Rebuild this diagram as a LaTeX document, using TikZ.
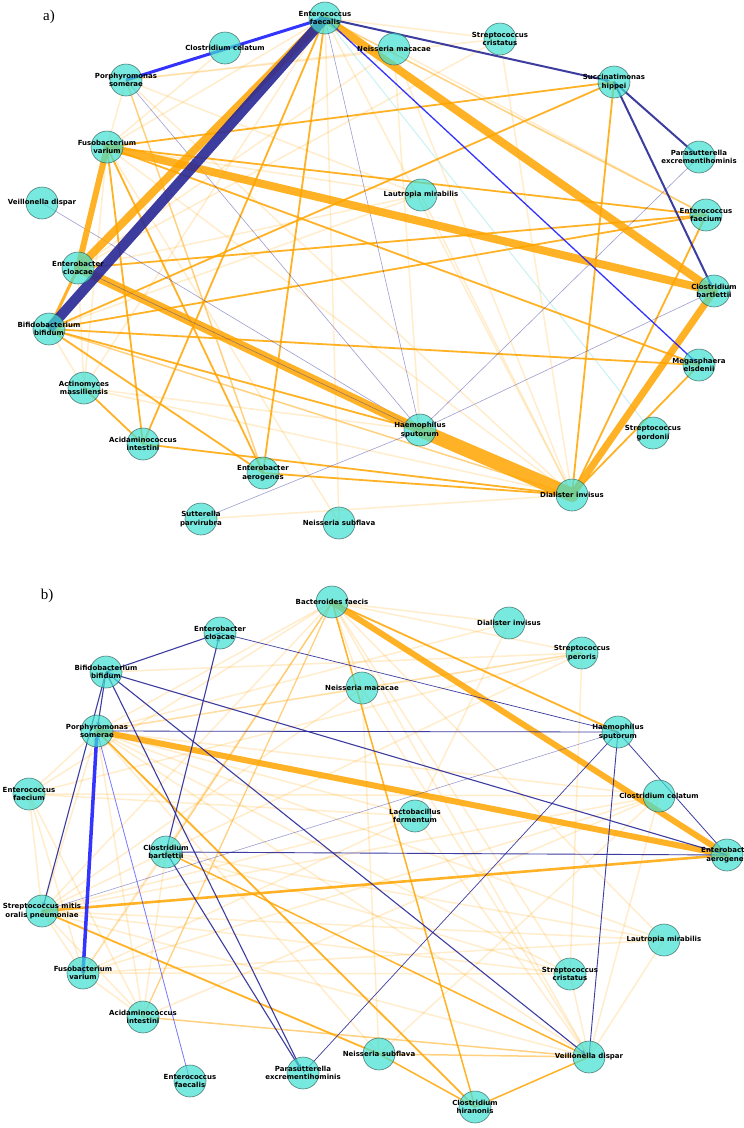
\documentclass[tikz,border=0pt]{standalone}
\usepackage{fontspec}
\newfontfamily\lblfont{DejaVu Sans}
\newfontfamily\panelfont{Liberation Serif}
\usetikzlibrary{arrows.meta}
\pgfdeclarelayer{bg}
\pgfsetlayers{bg,main}
\definecolor{eorange}{RGB}{255,165,0}
\definecolor{enavy}{RGB}{40,40,150}
\definecolor{eblue}{RGB}{30,30,255}
\definecolor{nodefill}{RGB}{64,224,208}
\definecolor{nodeline}{RGB}{47,79,79}
\definecolor{ecyan}{RGB}{150,230,230}
\tikzset{
  nd/.style={circle, minimum size=32pt, inner sep=0pt, fill=nodefill, fill opacity=0.7, draw=nodeline, draw opacity=0.7, line width=0.6pt},
  lbl/.style={font=\lblfont\bfseries\fontsize{7}{8.3}\selectfont, align=center, inner sep=0pt, text=black},
  eo/.style={draw=eorange, draw opacity=0.85, line width=#1, line cap=round}, eo/.default=1.8,
  ef/.style={draw=eorange, draw opacity=0.2, line width=#1}, ef/.default=1.5,
  em/.style={draw=eorange, draw opacity=0.5, line width=#1}, em/.default=1.5,
  en/.style={draw=enavy, draw opacity=0.9, line width=#1}, en/.default=1.1,
  eb/.style={draw=eblue, draw opacity=0.9, line width=#1}, eb/.default=1.2,
  el/.style={draw=enavy, draw opacity=0.45, line width=0.6pt},
  ec/.style={draw=ecyan, draw opacity=0.5, line width=1pt},
  arr/.style={-{Stealth[length=5pt,width=4pt]}, shorten >=4pt},
  plab/.style={font=\panelfont\fontsize{15}{18}\selectfont, inner sep=0pt}
}
\newcommand{\bug}[3]{\node[nd] (#1) at (#2) {}; \node[lbl] (#1t) at (#1.center) {#3};}
\newcommand{\E}[3]{\draw[#1] (#2.center) -- (#3.center);}
\begin{document}
\begin{tikzpicture}[x=1pt,y=-1pt]
\useasboundingbox (0,0) rectangle (744,1128);
% ---------------- panel a nodes
\node[plab] (pa) at (49,17) {a)};
\bug{aEFs}{325,18}{Enterococcus\\faecalis}
\bug{aCC}{225,48}{Clostridium celatum}
\bug{aPS}{126,80}{Porphyromonas\\somerae}
\bug{aFV}{107,147}{Fusobacterium\\varium}
\bug{aVD}{42,203}{Veillonella dispar}
\bug{aECl}{78,268}{Enterobacter\\cloacae}
\bug{aBB}{49,329}{Bifidobacterium\\bifidum}
\bug{aAM}{84,388}{Actinomyces\\massiliensis}
\bug{aAI}{143,444}{Acidaminococcus\\intestini}
\bug{aEA}{263,473}{Enterobacter\\aerogenes}
\bug{aSP}{201,519}{Sutterella\\parvirubra}
\bug{aNS}{339,523}{Neisseria subflava}
\bug{aNM}{394,49}{Neisseria macacae}
\bug{aSC}{500,39}{Streptococcus\\cristatus}
\bug{aSH}{614,82}{Succinatimonas\\hippei}
\bug{aPE}{699,157}{Parasutterella\\excrementihominis}
\bug{aEFm}{706,215}{Enterococcus\\faecium}
\bug{aLM}{421,195}{Lautropia mirabilis}
\bug{aCB}{714,291}{Clostridium\\bartlettii}
\bug{aME}{699,365}{Megasphaera\\elsdenii}
\bug{aHS}{420,430}{Haemophilus\\sputorum}
\bug{aSG}{653,433}{Streptococcus\\gordonii}
\bug{aDI}{572,495}{Dialister invisus}
% ---------------- panel b nodes
\node[plab] (pb) at (47,596) {b)};
\bug{bBF}{332,602}{Bacteroides faecis}
\bug{bECl}{220,633}{Enterobacter\\cloacae}
\bug{bBB}{106,672}{Bifidobacterium\\bifidum}
\bug{bPS}{97,731}{Porphyromonas\\somerae}
\bug{bEFm}{29,794}{Enterococcus\\faecium}
\bug{bNM}{362,688}{Neisseria macacae}
\bug{bCB}{166,852}{Clostridium\\bartlettii}
\bug{bSM}{42,911}{Streptococcus mitis\\oralis pneumoniae}
\bug{bFV}{83,973}{Fusobacterium\\varium}
\bug{bAI}{143,1017}{Acidaminococcus\\intestini}
\bug{bEFs}{190,1081}{Enterococcus\\faecalis}
\bug{bPE}{303,1073}{Parasutterella\\excrementihominis}
\bug{bNS}{379,1054}{Neisseria subflava}
\bug{bCH}{475,1107}{Clostridium\\hiranonis}
\bug{bVD}{589,1057}{Veillonella dispar}
\bug{bSC}{570,974}{Streptococcus\\cristatus}
\bug{bLM}{664,940}{Lautropia mirabilis}
\bug{bEA}{727,855}{Enterobacter\\aerogenes}
\bug{bDI}{509,623}{Dialister invisus}
\bug{bSPe}{582,653}{Streptococcus\\peroris}
\bug{bHS}{618,732}{Haemophilus\\sputorum}
\bug{bCC}{659,796}{Clostridium celatum}
\bug{bLF}{415,816}{Lactobacillus\\fermentum}
\begin{pgfonlayer}{bg}
\fill[white] (0,0) rectangle (744,1128);
% ======== panel a edges
% faint
\E{ef}{aEFs}{aSC} \E{ef}{aPS}{aSC} \E{ef}{aPS}{aNM} \E{ef}{aPS}{aLM}
\E{ef}{aPS}{aFV} \E{ef}{aFV}{aNS} \E{ef}{aEFs}{aAM} \E{ef}{aAM}{aDI}
\E{ef}{aBB}{aAM} \E{ef}{aFV}{aAM} \E{ef}{aEFs}{aNS} \E{ef}{aNM}{aDI}
\E{ef}{aLM}{aDI} \E{ef}{aECl}{aLM} \E{ef}{aECl}{aSC} \E{ef}{aFV}{aLM}
\E{ef}{aNM}{aEFm} \E{ef}{aSC}{aDI} \E{ef}{aEFs}{aFV} \E{ef}{aSP}{aDI}
\E{ef}{aPS}{aDI} \E{ef}{aFV}{aDI} \E{ef}{aECl}{aNM} \E{ef}{aBB}{aLM}
\E{ef}{aAM}{aHS} \E{ef}{aEFs}{aDI} \E{ef}{aNM}{aHS} \E{ef}{aECl}{aAM}
\E{ef}{aPS}{aCC} \E{ef}{aCC}{aFV}
\E{ec}{aEFs}{aSG}
% semi
\E{em}{aEFs}{aEFm} \E{em}{aBB}{aDI} \E{em}{aPS}{aEA}
% medium orange
\E{eo}{aFV}{aSH} \E{eo}{aBB}{aSH} \E{eo}{aSH}{aDI} \E{eo}{aECl}{aEFm}
\E{eo}{aBB}{aEFm} \E{eo}{aEFm}{aDI} \E{eo}{aFV}{aAI} \E{eo}{aEFs}{aAI}
\E{eo}{aEFs}{aEA} \E{eo}{aFV}{aEA} \E{eo}{aBB}{aEA} \E{eo}{aAM}{aAI}
\E{eo}{aAI}{aDI} \E{eo}{aEA}{aDI} \E{eo}{aBB}{aME} \E{eo}{aBB}{aHS}
\E{eo}{aFV}{aME} \E{eo}{aME}{aDI} \E{eo}{aFV}{aEFm} \E{eo=3}{aECl}{aBB}
% lavender
\E{el}{aSP}{aHS} \E{el}{aHS}{aPE} \E{el}{aHS}{aCB} \E{el}{aPS}{aHS}
\E{el}{aVD}{aHS} \E{el}{aEFs}{aHS}
% thick orange
\E{eo=8}{aEFs}{aECl} \E{eo=8}{aEFs}{aCB} \E{eo=8}{aFV}{aCB}
\E{eo=6}{aFV}{aECl} \E{eo=9}{aECl}{aHS} \E{eo=14}{aHS}{aDI}
\E{eo=7}{aCB}{aDI}
\E{el}{aECl}{aHS}
% blue / navy
\E{en=10}{aEFs}{aBB}
\draw[eb=3,arr] (aPS.center) -- (aEFs.center);
\draw[eb=1.3,arr] (aEFs.center) -- (aME.center);
\draw[en=2,arr] (aEFs.center) -- (aSH.center);
\draw[en=2,arr] (aSH.center) -- (aPE.center);
\draw[en=2,arr] (aSH.center) -- (aCB.center);
% ======== panel b edges
% faint
\E{ef}{bBF}{bDI} \E{ef}{bBF}{bSPe} \E{ef}{bBF}{bNM} \E{ef}{bBF}{bPS}
\E{ef}{bBF}{bEFm} \E{ef}{bBF}{bSM} \E{ef}{bBF}{bLM} \E{ef}{bBF}{bSC}
\E{ef}{bBF}{bVD} \E{ef}{bBF}{bFV}
\E{ef}{bSPe}{bPS} \E{ef}{bSPe}{bNM} \E{ef}{bSPe}{bBB} \E{ef}{bSPe}{bSM}
\E{ef}{bSPe}{bEFm} \E{ef}{bSPe}{bSC} \E{ef}{bDI}{bLF} \E{ef}{bDI}{bPS}
\E{ef}{bSM}{bLM} \E{ef}{bSM}{bSC} \E{ef}{bSM}{bLF} \E{ef}{bSM}{bCC}
\E{ef}{bSM}{bVD} \E{ef}{bFV}{bLM} \E{ef}{bFV}{bSC} \E{ef}{bFV}{bCC}
\E{ef}{bFV}{bAI} \E{ef}{bSM}{bFV} \E{ef}{bSM}{bAI} \E{ef}{bPS}{bAI}
\E{ef}{bEFm}{bAI} \E{ef}{bEFm}{bFV} \E{ef}{bEFm}{bPS} \E{ef}{bEFm}{bSM}
\E{ef}{bCB}{bAI} \E{ef}{bCB}{bFV} \E{ef}{bPS}{bLF} \E{ef}{bPS}{bSC}
\E{ef}{bPS}{bLM} \E{ef}{bPS}{bNS} \E{ef}{bPS}{bSM} \E{ef}{bPS}{bCC}
\E{ef}{bCC}{bEFm} \E{ef}{bCC}{bNS} \E{ef}{bCC}{bAI} \E{ef}{bLM}{bVD}
\E{ef}{bSC}{bVD} \E{ef}{bCC}{bVD} \E{ef}{bLF}{bVD} \E{ef}{bNM}{bVD}
\E{ef}{bNM}{bNS} \E{ef}{bLF}{bEFm} \E{ef}{bLF}{bFV} \E{ef}{bNM}{bPS}
\E{ef}{bNM}{bSM} \E{ef}{bCB}{bLM} \E{ef}{bCB}{bSC} \E{ef}{bPS}{bVD}
% semi
\E{em}{bAI}{bVD} \E{em}{bNS}{bVD} \E{em=1.3}{bBF}{bCB} \E{em=1.3}{bBF}{bAI}
% medium orange
\E{eo}{bBF}{bHS} \E{eo=1.5}{bBF}{bCH} \E{eo}{bPS}{bCH} \E{eo}{bSM}{bNS}
\E{eo=1.5}{bCB}{bVD} \E{eo=1.5}{bNS}{bCH} \E{eo=1.5}{bCH}{bVD}
\E{eo=2.6}{bSM}{bEA}
% thick orange
\E{eo=6}{bBF}{bEA} \E{eo=6}{bPS}{bEA}
% navy
\E{en}{bBB}{bECl}
\draw[en,arr] (bCB.center) -- (bECl.center);
\draw[en,arr] (bBB.center) -- (bPS.center);
\draw[en,arr] (bBB.center) -- (bSM.center);
\draw[en,arr] (bBB.center) -- (bPE.center);
\draw[en,arr] (bCB.center) -- (bPE.center);
\draw[en,arr] (bBB.center) -- (bVD.center);
\E{en}{bBB}{bEA}
\E{en=0.8}{bPS}{bHS}
\E{en=0.9}{bCB}{bEA}
\E{en=0.9}{bHS}{bVD}
\draw[en=0.8,arr] (bHS.center) -- (bEA.center);
\E{en=0.7}{bHS}{bPE}
\E{el}{bSM}{bHS}
\E{en=0.7}{bECl}{bHS}
\draw[eb=0.8, draw opacity=0.6] (bPS.center) -- (bEFs.center);
\draw[eb=3.5,arr] (bFV.center) -- (bPS.center);
\end{pgfonlayer}
\end{tikzpicture}
\end{document}
